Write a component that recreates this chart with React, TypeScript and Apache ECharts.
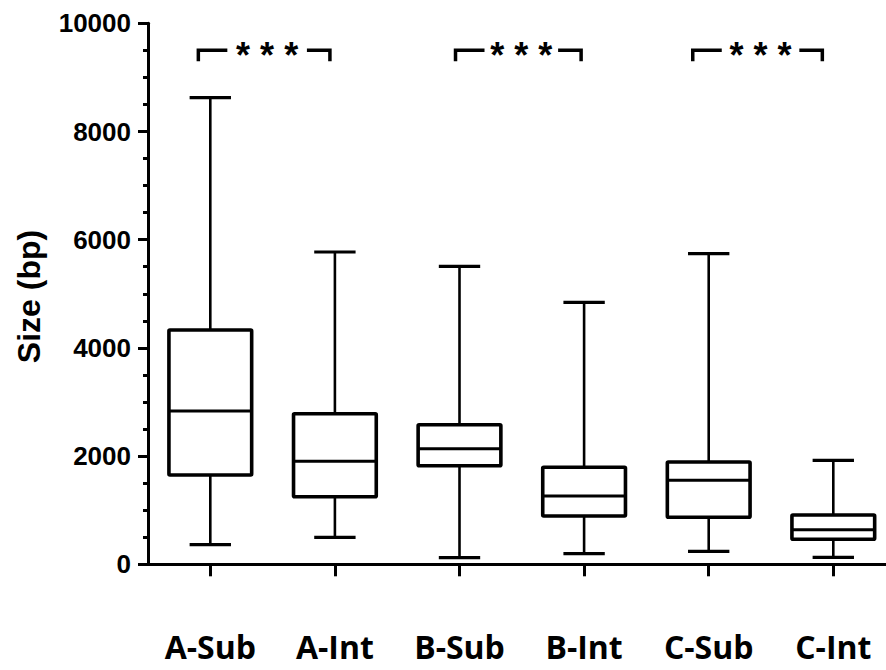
import React, { useEffect, useRef } from "react";
import * as echarts from "echarts";

// Fragment size distributions per group (bp)
const categories = ["A-Sub", "A-Int", "B-Sub", "B-Int", "C-Sub", "C-Int"];
const whiskerLow = [362, 499, 122, 196, 240, 129];
const quartile1 = [1651, 1250, 1823, 893, 869, 462];
const medians = [2834, 1904, 2137, 1262, 1553, 640];
const quartile3 = [4331, 2784, 2580, 1793, 1891, 911];
const whiskerHigh = [8625, 5773, 5508, 4843, 5741, 1922];

// Significance brackets between paired groups
const bracketFrom = [0, 2, 4];
const bracketTo = [1, 3, 5];
const bracketLabels = ["* * *", "* * *", "* * *"];
const bracketLevel = 9500;
const bracketFoot = 9300;

// Y axis
const yMin = 0;
const yMax = 10000;
const yStep = 2000;

// horizontal nudges of the bracket ends, as a fraction of a category band
const bracketNudgeLeft = [-0.096, -0.032, -0.128];
const bracketNudgeRight = [-0.04, -0.024, -0.088];

export default function App() {
  const ref = useRef<HTMLDivElement>(null);

  useEffect(() => {
    if (!ref.current) return;
    const chart = echarts.init(ref.current, null, { renderer: "svg" });

    const boxData = categories.map((_, i) => [
      i,
      whiskerLow[i],
      quartile1[i],
      medians[i],
      quartile3[i],
      whiskerHigh[i],
    ]);
    const bracketData = bracketFrom.map((f, i) => [
      f,
      bracketTo[i],
      bracketLevel,
      bracketFoot,
      i,
    ]);

    const renderBox = (params: any, api: any) => {
      const i = api.value(0);
      const band = api.size([1, 0])[0];
      const boxW = band * 0.664;
      const capW = boxW * 0.5;
      const [cx, yLo] = api.coord([i, api.value(1)]);
      const yQ1 = api.coord([i, api.value(2)])[1];
      const yMed = api.coord([i, api.value(3)])[1];
      const yQ3 = api.coord([i, api.value(4)])[1];
      const yHi = api.coord([i, api.value(5)])[1];
      const line = (x1: number, y1: number, x2: number, y2: number, w: number) => ({
        type: "line",
        shape: { x1, y1, x2, y2 },
        style: { stroke: "#000", lineWidth: w },
      });
      return {
        type: "group",
        children: [
          line(cx, yQ3, cx, yHi, 2.6),
          line(cx - capW / 2, yHi, cx + capW / 2, yHi, 3.2),
          line(cx, yQ1, cx, yLo, 2.6),
          line(cx - capW / 2, yLo, cx + capW / 2, yLo, 3.2),
          {
            type: "rect",
            shape: { x: cx - boxW / 2, y: yQ3, width: boxW, height: yQ1 - yQ3, r: 1 },
            style: { fill: "#fff", stroke: "#000", lineWidth: 3.6 },
          },
          line(cx - boxW / 2, yMed, cx + boxW / 2, yMed, 3),
        ],
      };
    };

    const renderBracket = (params: any, api: any) => {
      const k = api.value(4);
      const band = api.size([1, 0])[0];
      const xL = api.coord([api.value(0), api.value(2)])[0] + bracketNudgeLeft[k] * band;
      const xR = api.coord([api.value(1), api.value(2)])[0] + bracketNudgeRight[k] * band;
      const yTop = api.coord([api.value(0), api.value(2)])[1];
      const yFoot = api.coord([api.value(0), api.value(3)])[1];
      const segL = 29;
      const segR = 23;
      return {
        type: "group",
        children: [
          {
            type: "polyline",
            shape: { points: [[xL, yFoot], [xL, yTop], [xL + segL, yTop]] },
            style: { stroke: "#000", lineWidth: 3.5, fill: "none" },
          },
          {
            type: "polyline",
            shape: { points: [[xR - segR, yTop], [xR, yTop], [xR, yFoot]] },
            style: { stroke: "#000", lineWidth: 3.5, fill: "none" },
          },
          {
            type: "text",
            x: (xL + segL + xR - segR) / 2,
            y: yTop + 5,
            style: {
              text: bracketLabels[k],
              fill: "#000",
              fontSize: 36,
              fontWeight: "bold",
              fontFamily: "Liberation Sans, Arial, sans-serif",
              align: "center",
              verticalAlign: "middle",
            },
          },
        ],
      };
    };

    chart.setOption({
      animation: false,
      backgroundColor: "#fff",
      grid: { left: 148, right: 4.4, top: 23.3, bottom: 105.7, containLabel: false },
      xAxis: {
        type: "category",
        data: categories,
        boundaryGap: true,
        axisLine: { show: true, lineStyle: { color: "#000", width: 3 } },
        axisTick: {
          show: true,
          alignWithLabel: true,
          length: 12,
          lineStyle: { color: "#000", width: 3 },
        },
        axisLabel: {
          margin: 67,
          color: "#000",
          fontSize: 32,
          lineHeight: 30,
          fontWeight: "bold",
          fontFamily: "Open Sans, Noto Sans, sans-serif",
          interval: 0,
        },
        splitLine: { show: false },
      },
      yAxis: {
        type: "value",
        min: yMin,
        max: yMax,
        interval: yStep,
        axisLine: { show: true, lineStyle: { color: "#000", width: 3 } },
        axisTick: { show: true, length: 10, lineStyle: { color: "#000", width: 3 } },
        minorTick: { show: true, splitNumber: 4, length: 5, lineStyle: { color: "#000", width: 3 } },
        axisLabel: {
          margin: 17,
          color: "#000",
          fontSize: 26,
          fontWeight: "bold",
          fontFamily: "Liberation Sans, Arial, sans-serif",
          formatter: (v: number) => String(v),
        },
        splitLine: { show: false },
        minorSplitLine: { show: false },
      },
      graphic: [
        {
          type: "text",
          x: 29,
          y: 296.5,
          rotation: Math.PI / 2,
          style: {
            text: "Size (bp)",
            fill: "#000",
            fontSize: 32,
            fontWeight: "bold",
            fontFamily: "Liberation Sans, Arial, sans-serif",
            align: "center",
            verticalAlign: "middle",
          },
        },
      ],
      series: [
        {
          type: "custom",
          name: "size",
          renderItem: renderBox,
          data: boxData,
          encode: { x: 0, y: [1, 2, 3, 4, 5] },
          clip: false,
          z: 2,
        },
        {
          type: "custom",
          name: "significance",
          renderItem: renderBracket,
          data: bracketData,
          encode: { x: [0, 1], y: [2, 3] },
          clip: false,
          z: 3,
        },
      ],
    });

    return () => chart.dispose();
  }, []);

  return (
    <div
      style={{
        position: "fixed",
        left: 0,
        top: 0,
        width: 886,
        height: 670,
        overflow: "hidden",
        background: "#fff",
      }}
    >
      <div ref={ref} style={{ position: "absolute", left: 0, top: 0, width: 900, height: 670 }} />
    </div>
  );
}
